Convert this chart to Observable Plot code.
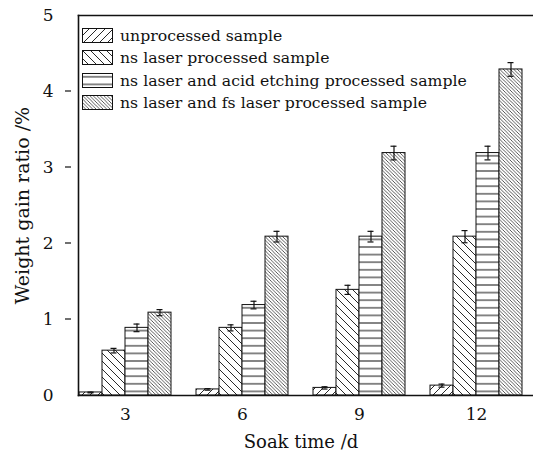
<!DOCTYPE html>
<html>
<head>
<meta charset="utf-8">
<script src="https://cdn.jsdelivr.net/npm/d3@7"></script>
<script src="https://cdn.jsdelivr.net/npm/@observablehq/plot@0.6"></script>
<style>
  html, body { margin: 0; padding: 0; background: #fff; overflow: hidden; }
  #wrap { position: relative; width: 533px; height: 451px; overflow: hidden; }
  #wrap > svg { max-width: none !important; }
  #legend { position: absolute; left: 82px; top: 24px; font-family: "DejaVu Serif", serif; font-size: 15.7px; color: #111; }
  .row { display: flex; align-items: center; height: 22.5px; }
  .row svg { margin-right: 7px; }
</style>
</head>
<body>
<div id="wrap"><div id="legend"></div></div>
<script>
const times = ["3", "6", "9", "12"];
const series = [
  "unprocessed sample",
  "ns laser processed sample",
  "ns laser and acid etching processed sample",
  "ns laser and fs laser processed sample"
];
const unprocessed = [0.04, 0.08, 0.10, 0.13];
const nsLaser     = [0.59, 0.89, 1.39, 2.09];
const acidEtch    = [0.89, 1.19, 2.09, 3.19];
const fsLaser     = [1.09, 2.09, 3.19, 4.29];
const unprocessedErr = [0.005, 0.01, 0.015, 0.02];
const nsLaserErr     = [0.03, 0.04, 0.06, 0.08];
const acidEtchErr    = [0.05, 0.05, 0.07, 0.09];
const fsLaserErr     = [0.04, 0.07, 0.09, 0.09];
const yTicks = [0, 1, 2, 3, 4, 5];
const yLabel = "Weight gain ratio /%";
const xLabel = "Soak time /d";

const patternIds = ["p-up", "p-ns", "p-acid", "p-fs"];
const valuesBySeries = [unprocessed, nsLaser, acidEtch, fsLaser];
const errBySeries = [unprocessedErr, nsLaserErr, acidEtchErr, fsLaserErr];

const data = [];
times.forEach((t, i) => series.forEach((s, j) => {
  data.push({time: t, series: s, value: valuesBySeries[j][i], err: errBySeries[j][i], pat: `url(#${patternIds[j]})`});
}));

function patternDefs(svgSel) {
  const defs = svgSel.insert("defs", ":first-child");
  let p = defs.append("pattern").attr("id", "p-up").attr("patternUnits", "userSpaceOnUse").attr("width", 8).attr("height", 8);
  p.append("rect").attr("width", 8).attr("height", 8).attr("fill", "#fff");
  p.append("path").attr("d", "M0,8 L8,0 M-2,2 L2,-2 M6,10 L10,6").attr("stroke", "#111").attr("stroke-width", 0.9);
  p = defs.append("pattern").attr("id", "p-ns").attr("patternUnits", "userSpaceOnUse").attr("width", 8).attr("height", 8);
  p.append("rect").attr("width", 8).attr("height", 8).attr("fill", "#fff");
  p.append("path").attr("d", "M0,0 L8,8 M-2,6 L2,10 M6,-2 L10,2").attr("stroke", "#111").attr("stroke-width", 0.9);
  p = defs.append("pattern").attr("id", "p-acid").attr("patternUnits", "userSpaceOnUse").attr("width", 8).attr("height", 7.6);
  p.append("rect").attr("width", 8).attr("height", 7.6).attr("fill", "#fff");
  p.append("path").attr("d", "M0,3.8 L8,3.8").attr("stroke", "#111").attr("stroke-width", 1);
  p = defs.append("pattern").attr("id", "p-fs").attr("patternUnits", "userSpaceOnUse").attr("width", 3.5).attr("height", 3.5);
  p.append("rect").attr("width", 3.5).attr("height", 3.5).attr("fill", "#fff");
  p.append("path").attr("d", "M0,0 L3.5,3.5 M-1,2.5 L1,4.5 M2.5,-1 L4.5,1").attr("stroke", "#111").attr("stroke-width", 0.7);
}

const chart = Plot.plot({
  width: 536,
  height: 451,
  marginLeft: 65,
  marginRight: 0,
  marginTop: 15,
  marginBottom: 56,
  style: {fontFamily: "DejaVu Serif, serif", fontSize: "16px", color: "#111"},
  fx: {domain: times, paddingInner: 0.2, paddingOuter: 0.1, label: null},
  x: {domain: series, padding: 0, axis: null},
  y: {domain: [0, 5], label: null},
  marks: [
    Plot.barY(data, {fx: "time", x: "series", y: "value", fill: "pat", stroke: "#111", strokeWidth: 1}),
    Plot.ruleX(data, {fx: "time", x: "series", y1: d => d.value - d.err, y2: d => d.value + d.err, stroke: "#111", strokeWidth: 1.2}),
    Plot.tickY(data, {fx: "time", x: "series", y: d => d.value + d.err, stroke: "#111", strokeWidth: 1.2, insetLeft: 8.5, insetRight: 8.5}),
    Plot.tickY(data, {fx: "time", x: "series", y: d => d.value - d.err, stroke: "#111", strokeWidth: 1.2, insetLeft: 8.5, insetRight: 8.5}),
    Plot.axisY({ticks: yTicks, tickFormat: d3.format("d"), tickSize: 0, tickPadding: 25, label: null, fontSize: 17}),
    Plot.axisY({ticks: [], tickSize: 0, label: yLabel, labelAnchor: "center", labelArrow: "none", labelOffset: 63, fontSize: 19}),
    Plot.axisFx({anchor: "bottom", tickSize: 0, tickPadding: 12, label: null, fontSize: 17}),
    Plot.text([xLabel], {facet: "super", frameAnchor: "bottom", dy: 52, fontSize: 18, fill: "#111"}),
    Plot.frame({facet: "super", anchor: "left", stroke: "#111", strokeWidth: 1.6}),
    Plot.frame({facet: "super", anchor: "top", stroke: "#111", strokeWidth: 1.6, insetRight: -40}),
    Plot.frame({facet: "super", anchor: "bottom", stroke: "#111", strokeWidth: 1.6, insetRight: -40})
  ]
});
document.getElementById("wrap").prepend(chart);
patternDefs(d3.select(chart));

// inward y ticks
const ys = chart.scale("y");
d3.select(chart).append("g").attr("stroke", "#111").attr("stroke-width", 1.2)
  .selectAll("line").data(yTicks.slice(1, -1)).join("line")
  .attr("x1", 65).attr("x2", 71).attr("y1", d => ys.apply(d)).attr("y2", d => ys.apply(d));

// legend
const leg = d3.select("#legend");
series.forEach((s, j) => {
  const row = leg.append("div").attr("class", "row");
  const sv = row.append("svg").attr("width", 31).attr("height", 15);
  const tmp = d3.select(chart).select(`#${patternIds[j]}`).node().cloneNode(true);
  tmp.setAttribute("id", `l-${patternIds[j]}`);
  sv.append("defs").node().appendChild(tmp);
  sv.append("rect").attr("x", 0.5).attr("y", 0.5).attr("width", 30).attr("height", 14)
    .attr("fill", `url(#l-${patternIds[j]})`).attr("stroke", "#111").attr("stroke-width", 1);
  row.append("span").text(s);
});
</script>
</body>
</html>
